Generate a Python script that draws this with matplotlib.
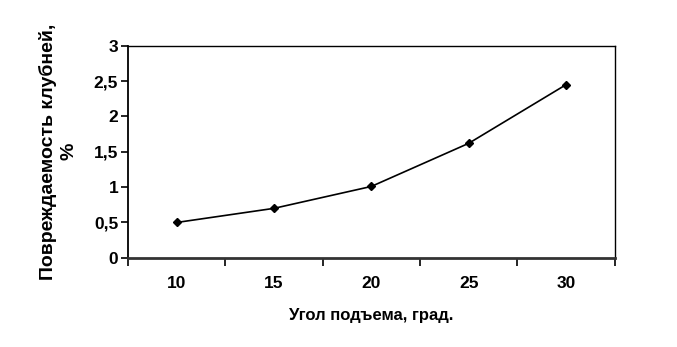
import matplotlib
matplotlib.use("Agg")
import matplotlib.pyplot as plt
from matplotlib.ticker import FixedLocator, FuncFormatter

# data
angles = ["10", "15", "20", "25", "30"]
damage = [0.50, 0.70, 1.01, 1.62, 2.45]
y_ticks = [0, 0.5, 1, 1.5, 2, 2.5, 3]

plt.rcParams["font.family"] = ["Liberation Sans", "DejaVu Sans"]
plt.rcParams["font.weight"] = "bold"

fig = plt.figure(figsize=(6.77, 3.47), dpi=100)
ax = fig.add_axes([0.189, 0.257, 0.719, 0.611])

x = list(range(len(angles)))
ax.plot(x, damage, color="black", lw=1.2, marker="D", markersize=4.5,
        markerfacecolor="black", markeredgecolor="black")

ax.set_xlim(-0.5, len(angles) - 0.5)
ax.set_ylim(0, 3)

# category boundaries get the tick marks, labels sit in the middle
ax.xaxis.set_major_locator(FixedLocator([i - 0.5 for i in range(len(angles) + 1)]))
ax.xaxis.set_major_formatter(FuncFormatter(lambda v, p: ""))
ax.xaxis.set_minor_locator(FixedLocator(x))
ax.set_xticklabels(angles, minor=True)
ax.tick_params(axis="x", which="major", direction="out", length=6, width=1.2)
ax.tick_params(axis="x", which="minor", length=0, pad=13, labelsize=12.5)

ax.set_yticks(y_ticks)
ax.yaxis.set_major_formatter(
    FuncFormatter(lambda v, p: f"{v:g}".replace(".", ",")))
ax.tick_params(axis="y", direction="out", length=5, width=1.2, labelsize=12.5, pad=2)

for side in ["top", "right"]:
    ax.spines[side].set_linewidth(1.0)
ax.spines["left"].set_linewidth(1.3)
ax.spines["bottom"].set_linewidth(2.0)
ax.spines["bottom"].set_color("#333333")

ax.set_xlabel("Угол подъема, град.", fontsize=12, fontweight="bold", labelpad=12)
ax.set_ylabel("Повреждаемость клубней,\n%", fontsize=14, fontweight="bold",
              labelpad=12, linespacing=1.25)

fig.savefig("out.png", dpi=100)
